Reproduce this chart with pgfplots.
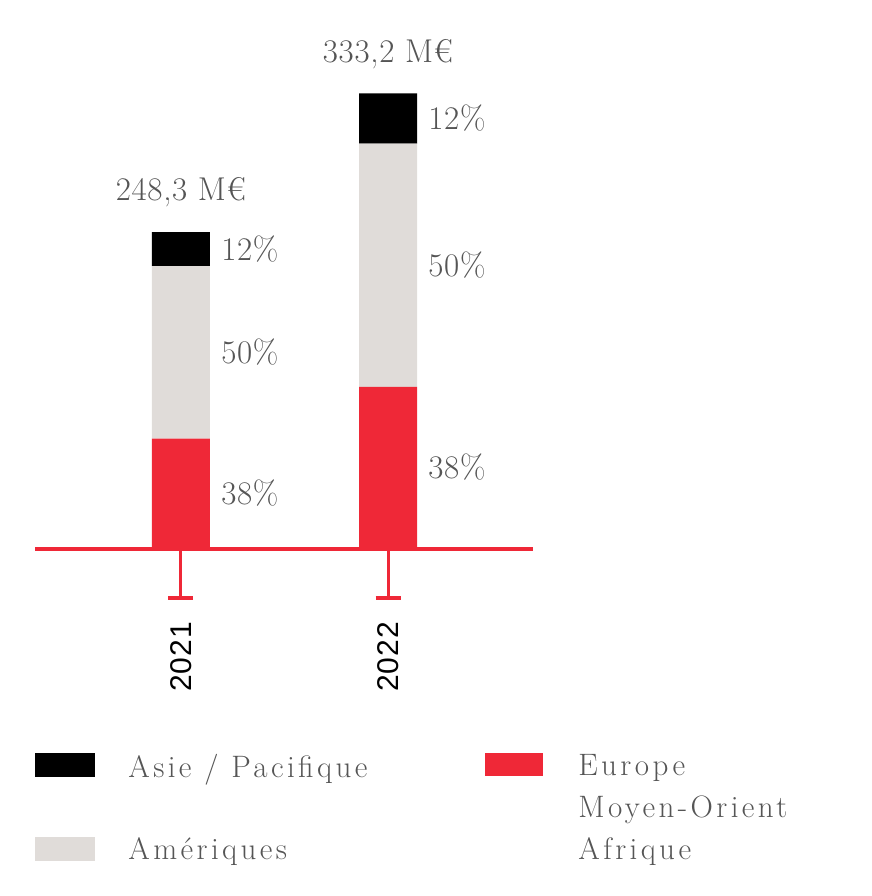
\documentclass[border=0pt]{standalone}
\usepackage{fontspec}
\setmainfont{Latin Modern Roman}
\newfontfamily\legfont[LetterSpace=11]{Latin Modern Roman}
\newfontfamily\lblfont[LetterSpace=2]{Latin Modern Roman}
\newfontfamily\yearfont[LetterSpace=3]{Liberation Sans}
\usepackage{pgfplots}
\pgfplotsset{compat=1.18}
\definecolor{cred}{HTML}{EF2837}
\definecolor{cgray}{HTML}{E0DCD9}
\definecolor{ctext}{HTML}{555555}
\begin{document}
\begin{tikzpicture}[x=0.5pt,y=0.5pt]
\useasboundingbox (0,0) rectangle (872,896);
\begin{axis}[at={(17.5pt,173.5pt)}, anchor=south west, scale only axis,
  width=249pt, height=254.5pt, xmin=-0.705, xmax=1.700, ymin=0, ymax=372.2,
  axis lines=none, ybar stacked, bar width=29pt, clip=false]
\addplot[fill=cred, draw=none] coordinates {(0,80.8) (1,118.5)};
\addplot[fill=cgray, draw=none] coordinates {(0,126.1) (1,178.0)};
\addplot[fill=black, draw=none] coordinates {(0,24.9) (1,36.7)};
% baseline and ticks
\draw[cred, line width=2pt] (axis cs:-0.705,0) -- (axis cs:1.7,0);
\draw[cred, line width=1.5pt] (axis cs:0,0) -- ++(0pt,-24.5pt);
\draw[cred, line width=2pt] ([yshift=-24.5pt]axis cs:0,0) ++(-6.25pt,0pt) -- ++(12.5pt,0pt);
\draw[cred, line width=1.5pt] (axis cs:1,0) -- ++(0pt,-24.5pt);
\draw[cred, line width=2pt] ([yshift=-24.5pt]axis cs:1,0) ++(-6.25pt,0pt) -- ++(12.5pt,0pt);
% year labels
\node[rotate=90, font=\yearfont\fontsize{15}{18}\selectfont] at ([yshift=-54pt]axis cs:0,0) {2021};
\node[rotate=90, font=\yearfont\fontsize{15}{18}\selectfont] at ([yshift=-54pt]axis cs:1,0) {2022};
% totals
\tikzset{tot/.style={anchor=base, text=ctext, font=\lblfont\fontsize{16.5}{19}\selectfont, inner sep=0pt}}
\node[tot] at ([yshift=15.5pt]axis cs:0,231.8) {248,3 M€};
\node[tot] at ([yshift=15.5pt]axis cs:1,333.2) {333,2 M€};
% percentages
\tikzset{pct/.style={anchor=base west, text=ctext, font=\lblfont\fontsize{16.5}{19}\selectfont, inner sep=0pt}}
\node[pct] at ([yshift=-5.5pt]axis cs:0.193,40.4) {38\%};
\node[pct] at ([yshift=-5.5pt]axis cs:0.193,143.85) {50\%};
\node[pct] at ([yshift=-5.5pt]axis cs:0.193,219.35) {12\%};
\node[pct] at ([yshift=-5.5pt]axis cs:1.193,59.25) {38\%};
\node[pct] at ([yshift=-5.5pt]axis cs:1.193,207.5) {50\%};
\node[pct] at ([yshift=-5.5pt]axis cs:1.193,314.85) {12\%};
\end{axis}
% legend
\fill[black] (35,119) rectangle (95,143);
\fill[cgray] (35,35) rectangle (95,59);
\fill[cred] (485,120) rectangle (543,143);
\tikzset{leg/.style={anchor=base west, text=ctext, font=\legfont\fontsize{15.5}{18}\selectfont, inner sep=0pt}}
\node[leg] at (128,119) {Asie / Pacifique};
\node[leg] at (128,37) {Amériques};
\node[leg] at (578,120) {Europe};
\node[leg] at (578,78) {Moyen-Orient};
\node[leg] at (578,37) {Afrique};
\end{tikzpicture}
\end{document}
